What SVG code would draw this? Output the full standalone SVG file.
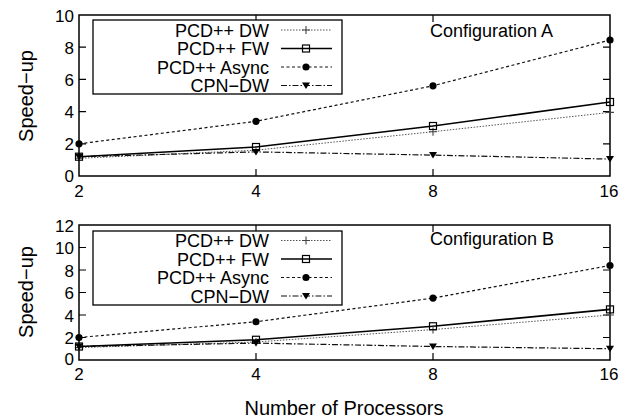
<svg xmlns="http://www.w3.org/2000/svg" xmlns:xlink="http://www.w3.org/1999/xlink" width="630" height="418" viewBox="0 0 630 418">
<style>
text{font-family:"Liberation Sans",Arial,sans-serif;fill:#000}
.tk{font-size:17px}
.yl{text-anchor:end}
.xl{text-anchor:middle}
.lg{font-size:18px;text-anchor:end}
.frame{fill:none;stroke:#000;stroke-width:1.5}
.tick{stroke:#000;stroke-width:1.2}
.dw{fill:none;stroke:#555;stroke-width:1;stroke-dasharray:1.5,1.5}
.fw{fill:none;stroke:#000;stroke-width:1.6}
.as{fill:none;stroke:#111;stroke-width:1.2;stroke-dasharray:3,2.5}
.cp{fill:none;stroke:#111;stroke-width:1.2;stroke-dasharray:6,2,1.5,2}
</style>
<defs>
<path id="mp" d="M-4,0H4M0,-4V4" stroke="#444" stroke-width="1.1" fill="none"/>
<rect id="ms" x="-3.5" y="-3.5" width="7" height="7" fill="none" stroke="#000" stroke-width="1.2"/>
<circle id="mc" r="3.6" fill="#000"/>
<path id="mt" d="M-4,-3L4,-3L0,3.5Z" fill="#000"/>
</defs>
<rect width="630" height="418" fill="#fff"/>

<g id="plotA">
<rect class="frame" x="79" y="15" width="531" height="161"/>
<g class="tick">
<path d="M79,143.8h7M79,111.6h7M79,79.4h7M79,47.2h7M610,143.8h-7M610,111.6h-7M610,79.4h-7M610,47.2h-7M256,176v-7M433,176v-7M256,15v7M433,15v7"/>
</g>
<g class="tk">
<text class="yl" x="74" y="21.5">10</text>
<text class="yl" x="74" y="53.5">8</text>
<text class="yl" x="74" y="85.5">6</text>
<text class="yl" x="74" y="117.5">4</text>
<text class="yl" x="74" y="150">2</text>
<text class="yl" x="74" y="182">0</text>
<text class="xl" x="79" y="197">2</text>
<text class="xl" x="256" y="197">4</text>
<text class="xl" x="433" y="197">8</text>
<text class="xl" x="609" y="197">16</text>
</g>
<text x="430" y="37" style="font-size:18px">Configuration A</text>
<g id="seriesA">
<polyline class="dw" points="79,158.3 256,150.2 433,131.7 610,112.4"/>
<polyline class="cp" points="79,156.7 256,151.9 433,155.1 610,159.1"/>
<polyline class="fw" points="79,156.7 256,147 433,126 610,102"/>
<polyline class="as" points="79,143.8 256,121.3 433,85.8 610,40"/>
<use xlink:href="#mp" x="79" y="158.3"/><use xlink:href="#mp" x="256" y="150.2"/><use xlink:href="#mp" x="433" y="131.7"/><use xlink:href="#mp" x="610" y="112.4"/>
<use xlink:href="#mt" x="79" y="156.7"/><use xlink:href="#mt" x="256" y="151.9"/><use xlink:href="#mt" x="433" y="155.1"/><use xlink:href="#mt" x="610" y="159.1"/>
<use xlink:href="#ms" x="79" y="156.7"/><use xlink:href="#ms" x="256" y="147"/><use xlink:href="#ms" x="433" y="126"/><use xlink:href="#ms" x="610" y="102"/>
<use xlink:href="#mc" x="79" y="143.8"/><use xlink:href="#mc" x="256" y="121.3"/><use xlink:href="#mc" x="433" y="85.8"/><use xlink:href="#mc" x="610" y="40"/>
</g>
<g id="legendA">
<rect x="93" y="20" width="249" height="74" fill="#fff" stroke="#000" stroke-width="1.3"/>
<text class="lg" x="269" y="36.5">PCD++ DW</text>
<text class="lg" x="269" y="55">PCD++ FW</text>
<text class="lg" x="269" y="73.5">PCD++ Async</text>
<text class="lg" x="269" y="92">CPN−DW</text>
<path class="dw" d="M281,30H332"/><use xlink:href="#mp" x="306" y="30"/>
<path class="fw" d="M281,48.5H332"/><use xlink:href="#ms" x="306" y="48.5"/>
<path class="as" d="M281,67H332"/><use xlink:href="#mc" x="306" y="67"/>
<path class="cp" d="M281,85.5H332"/><use xlink:href="#mt" x="306" y="85.5"/>
</g>
</g>

<g id="plotB">
<rect class="frame" x="79" y="225" width="531" height="135"/>
<g class="tick">
<path d="M79,337.5h7M79,315h7M79,292.5h7M79,270h7M79,247.5h7M610,337.5h-7M610,315h-7M610,292.5h-7M610,270h-7M610,247.5h-7M256,360v-7M433,360v-7M256,225v7M433,225v7"/>
</g>
<g class="tk">
<text class="yl" x="74" y="232">12</text>
<text class="yl" x="74" y="254">10</text>
<text class="yl" x="74" y="276.5">8</text>
<text class="yl" x="74" y="299">6</text>
<text class="yl" x="74" y="321.5">4</text>
<text class="yl" x="74" y="344">2</text>
<text class="yl" x="74" y="365">0</text>
<text class="xl" x="79" y="380">2</text>
<text class="xl" x="256" y="380">4</text>
<text class="xl" x="433" y="380">8</text>
<text class="xl" x="609" y="380">16</text>
</g>
<text x="430" y="244.5" style="font-size:18px">Configuration B</text>
<g id="seriesB">
<polyline class="dw" points="79,347.6 256,342 433,329.6 610,315"/>
<polyline class="cp" points="79,346.5 256,343.1 433,346.5 610,348.75"/>
<polyline class="fw" points="79,346.5 256,339.75 433,326.25 610,309.4"/>
<polyline class="as" points="79,337.5 256,321.75 433,298.1 610,265.5"/>
<use xlink:href="#mp" x="79" y="347.6"/><use xlink:href="#mp" x="256" y="342"/><use xlink:href="#mp" x="433" y="329.6"/><use xlink:href="#mp" x="610" y="315"/>
<use xlink:href="#mt" x="79" y="346.5"/><use xlink:href="#mt" x="256" y="343.1"/><use xlink:href="#mt" x="433" y="346.5"/><use xlink:href="#mt" x="610" y="348.75"/>
<use xlink:href="#ms" x="79" y="346.5"/><use xlink:href="#ms" x="256" y="339.75"/><use xlink:href="#ms" x="433" y="326.25"/><use xlink:href="#ms" x="610" y="309.4"/>
<use xlink:href="#mc" x="79" y="337.5"/><use xlink:href="#mc" x="256" y="321.75"/><use xlink:href="#mc" x="433" y="298.1"/><use xlink:href="#mc" x="610" y="265.5"/>
</g>
<g id="legendB">
<rect x="93" y="231" width="249" height="74" fill="#fff" stroke="#000" stroke-width="1.3"/>
<text class="lg" x="269" y="247">PCD++ DW</text>
<text class="lg" x="269" y="265.5">PCD++ FW</text>
<text class="lg" x="269" y="284">PCD++ Async</text>
<text class="lg" x="269" y="302.5">CPN−DW</text>
<path class="dw" d="M281,240.5H332"/><use xlink:href="#mp" x="306" y="240.5"/>
<path class="fw" d="M281,259H332"/><use xlink:href="#ms" x="306" y="259"/>
<path class="as" d="M281,277.5H332"/><use xlink:href="#mc" x="306" y="277.5"/>
<path class="cp" d="M281,296H332"/><use xlink:href="#mt" x="306" y="296"/>
</g>
</g>

<text transform="translate(32.5,96) rotate(-90)" style="font-size:20px;text-anchor:middle">Speed−up</text>
<text transform="translate(32.5,292) rotate(-90)" style="font-size:20px;text-anchor:middle">Speed−up</text>
<text x="344" y="414.5" style="font-size:20px;text-anchor:middle">Number of Processors</text>
</svg>
